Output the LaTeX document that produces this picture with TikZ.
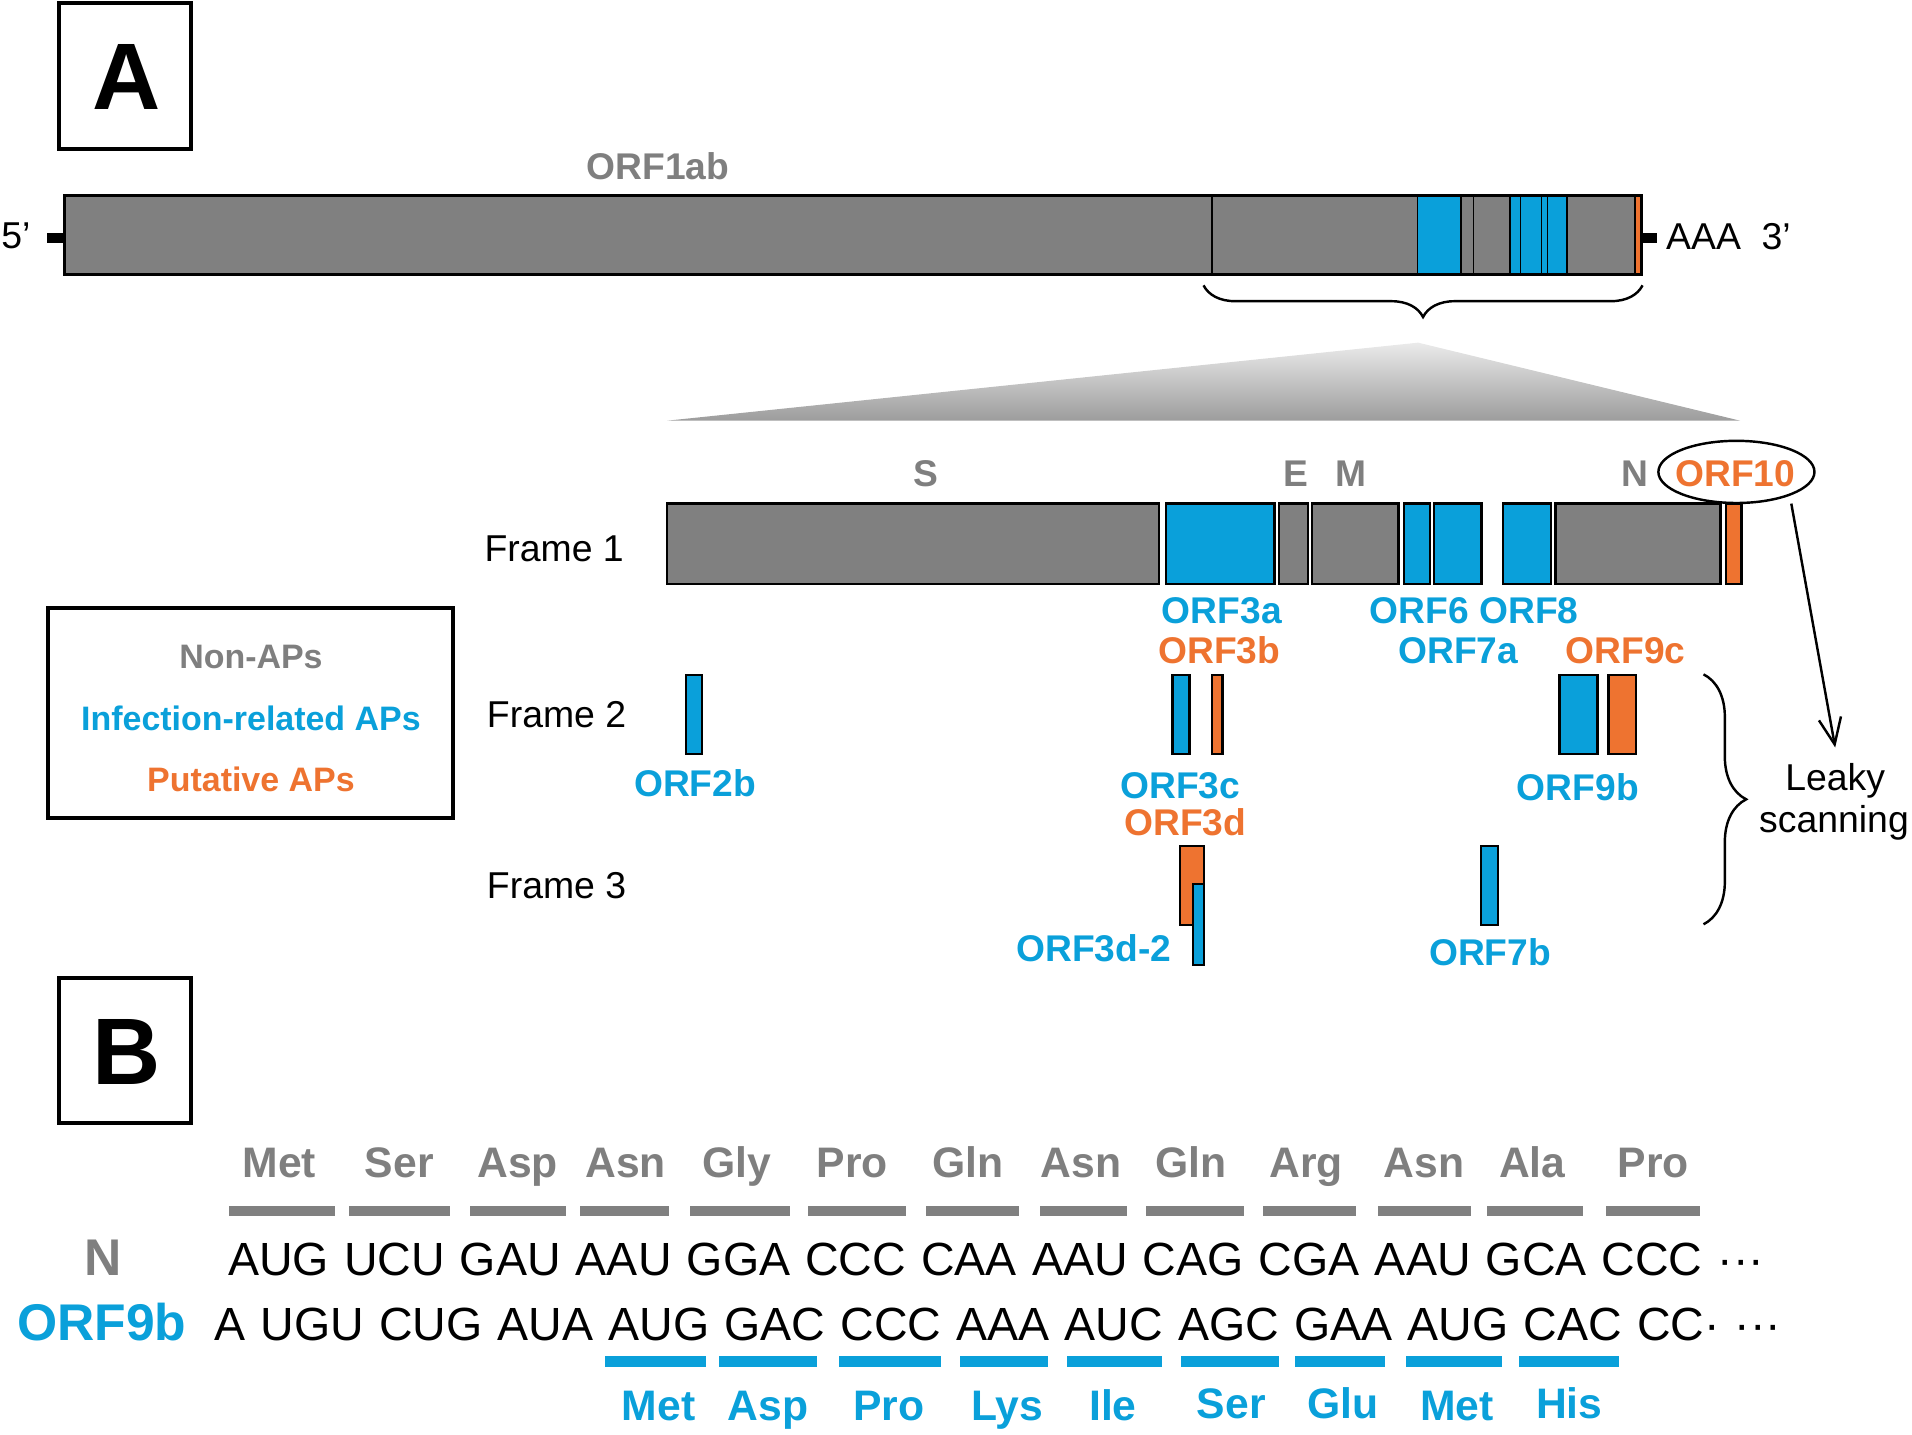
\documentclass[tikz,border=0pt]{standalone}
\usepackage{fontspec}
\setmainfont{Liberation Sans}
\usetikzlibrary{arrows.meta,decorations.pathreplacing,shapes.geometric}
\definecolor{apblue}{HTML}{0AA0DA}
\definecolor{aporange}{HTML}{EE7330}
\definecolor{nongray}{HTML}{808080}
\definecolor{txtgray}{HTML}{7F7F7F}
\definecolor{shtop}{HTML}{EAEAEA}
\definecolor{shbot}{HTML}{9C9C9C}
\newcommand{\myseqfont}{\fontsize{22.9}{26}\selectfont\spaceskip 7.45pt\relax}
\begin{document}
\begin{tikzpicture}[x=0.6pt,y=-0.6pt,
  lbl/.style={inner sep=0pt, anchor=base, font=\fontsize{18.3}{20}\selectfont\bfseries},
  plain/.style={inner sep=0pt, anchor=base, font=\fontsize{18.4}{20}\selectfont},
  legtxt/.style={inner sep=0pt, anchor=base, font=\fontsize{16.7}{19}\selectfont\bfseries},
  big/.style={inner sep=0pt, anchor=base, font=\fontsize{46.5}{50}\selectfont\bfseries},
  aa/.style={inner sep=0pt, anchor=base, font=\fontsize{21}{24}\selectfont\bfseries},
  seq/.style={inner sep=0pt, anchor=base west, font=\myseqfont},
  rowlab/.style={inner sep=0pt, anchor=base, font=\fontsize{25.4}{28}\selectfont\bfseries},
  blk/.style={draw=black, line width=1.2pt},
  thinln/.style={line width=0.8pt},
  frame/.style={draw=black, line width=2pt},
  brc/.style={line width=1.2pt, decorate},
]
\useasboundingbox (0,0) rectangle (1568,1176);

% ---------- Panel A label
\draw[frame] (48.7,2.2) rectangle (156.6,122);
\node[big] (labA) at (104,90.2) {A};

% ---------- Genome
\node[lbl, text=txtgray] (orf1ab) at (539.5,147.6) {ORF1ab};
\node[plain] (five) at (13,204) {5’};
\fill[black] (38.6,191.4) rectangle (53.7,199.4);
\fill[black] (1346,191.4) rectangle (1358.7,199.4);
\node[plain, anchor=base west] (aaa) at (1366,205) {AAA\ \ 3’};
\fill[nongray] (53,160) rectangle (1346,225);
\fill[apblue] (1162.3,160) rectangle (1198.2,225);
\fill[apblue] (1238.2,160) rectangle (1285.3,225);
\fill[aporange] (1341,160) rectangle (1346,225);
\foreach \xx in {993.7,1162.3,1198.2,1208.4,1238.2,1246.9,1264,1269,1285.3,1341}
  \draw[thinln] (\xx,160) -- (\xx,225);
\draw[line width=1.5pt] (53,160) rectangle (1346,225);

% brace under genome
\draw[brc, decoration={brace, mirror, amplitude=15.6pt}] (987,234) -- (1347,234);

% zoom triangle
\shade[top color=shtop, bottom color=shbot] (547,345) -- (1163,281) -- (1427,345) -- cycle;

% ---------- Frame labels
\node[plain, anchor=base west] (f1) at (397,460.6) {Frame 1};
\node[plain, anchor=base west] (f2) at (399,596.7) {Frame 2};
\node[plain, anchor=base west] (f3) at (399,736.7) {Frame 3};

% ---------- Frame 1
\draw[blk, fill=nongray] (547,413) rectangle (950.5,479);
\draw[blk, fill=apblue] (956,413) rectangle (1045,479);
\draw[blk, fill=nongray] (1049,413) rectangle (1072.6,479);
\draw[blk, fill=nongray] (1076,413) rectangle (1147,479);
\draw[blk, fill=apblue] (1151.5,413) rectangle (1172.7,479);
\draw[blk, fill=apblue] (1176,413) rectangle (1215,479);
\draw[blk, fill=apblue] (1232.6,413) rectangle (1272,479);
\draw[blk, fill=nongray] (1275.6,413) rectangle (1411,479);
\draw[blk, fill=aporange] (1415.5,413) rectangle (1428,479);

\node[lbl, text=txtgray] (lS) at (759,399) {S};
\node[lbl, text=txtgray] (lE) at (1063,399) {E};
\node[lbl, text=txtgray] (lM) at (1108,399) {M};
\node[lbl, text=txtgray] (lN) at (1341,399) {N};
\node[lbl, text=aporange] (l10) at (1423,399) {ORF10};
\node[draw, ellipse, line width=1.2pt, minimum width=76.8pt, minimum height=30.6pt, inner sep=0pt] (orf10e) at (1424,387) {};

\node[lbl, text=apblue] (l3a) at (1002,511) {ORF3a};
\node[lbl, text=apblue] (l68) at (1209,511) {ORF6 ORF8};
\node[lbl, text=aporange] (l3b) at (1000,544) {ORF3b};
\node[lbl, text=apblue] (l7a) at (1196,544) {ORF7a};
\node[lbl, text=aporange] (l9c) at (1333,544) {ORF9c};

% ---------- Frame 2
\draw[blk, fill=apblue] (562.6,553.6) rectangle (575.7,618.4);
\draw[blk, fill=apblue] (961.7,553.6) rectangle (975.3,618.4);
\draw[blk, fill=aporange] (994,553.6) rectangle (1002.5,618.4);
\draw[blk, fill=apblue] (1279,553.6) rectangle (1310,618.4);
\draw[blk, fill=aporange] (1319,553.6) rectangle (1341.6,618.4);

\node[lbl, text=apblue] (l2b) at (570,653.3) {ORF2b};
\node[lbl, text=apblue] (l3c) at (968,654.6) {ORF3c};
\node[lbl, text=apblue] (l9b) at (1294,656.6) {ORF9b};
\node[lbl, text=aporange] (l3d) at (972,685) {ORF3d};

% ---------- Frame 3
\draw[blk, fill=aporange] (967.7,693.8) rectangle (987.4,758.6);
\draw[blk, fill=apblue] (978.4,725) rectangle (987.4,791.4);
\draw[blk, fill=apblue] (1214.6,693.8) rectangle (1228.3,758.6);

\node[lbl, text=apblue] (l3d2) at (897,788.6) {ORF3d-2};
\node[lbl, text=apblue] (l7b) at (1222,791.4) {ORF7b};

% right brace + leaky scanning
\draw[brc, decoration={brace, amplitude=21pt}] (1397,553) -- (1397,758);
\node[plain] (leaky) at (1505,648) {Leaky};
\node[plain] (scan) at (1504,683) {scanning};
\coordinate (arrS) at (1469,413);
\coordinate (arrE) at (1505,613);
\draw[line width=1.2pt, -{Straight Barb[length=13pt,width=11pt,line width=1.2pt]}] (arrS) -- (arrE);

% ---------- Legend
\draw[frame] (39,498.9) rectangle (371.5,671);
\node[legtxt, text=txtgray] (lgN) at (205.8,548) {Non-APs};
\node[legtxt, text=apblue] (lgI) at (205.8,598.7) {Infection-related APs};
\node[legtxt, text=aporange] (lgP) at (205.8,649.2) {Putative APs};

% ---------- Panel B
\draw[frame] (48.7,802) rectangle (156.6,921);
\node[big] (labB) at (104,889) {B};

\foreach \cx/\t in {229/Met,327.5/Ser,424.5/Asp,513/Asn,604/Gly,699/Pro,794/Gln,886.6/Asn,976.9/Gln,1071/Arg,1167.7/Asn,1256.6/Ala,1355.7/Pro}
  \node[aa, text=txtgray] at (\cx,966) {\t};
\foreach \a/\b in {188/274.5,286.6/369.4,385.5/464.2,475.3/548.6,566/648,663/742.8,759.4/836,852.6/924,940/1020,1035.7/1112,1129.7/1206.7,1219.8/1298.2,1317.4/1394}
  \fill[nongray] (\a,988.7) rectangle (\b,997);

\node[rowlab, text=txtgray] (rN) at (84.3,1045.6) {N};
\node[seq] (seqN) at (186.7,1045.6) {AUG UCU GAU AAU GGA CCC CAA AAU CAG CGA AAU GCA CCC ···};
\node[rowlab, text=apblue] (r9b) at (83.5,1099) {ORF9b};
\node[seq] (seq9b) at (175.7,1099) {A UGU CUG AUA AUG GAC CCC AAA AUC AGC GAA AUG CAC CC· ···};

\foreach \a/\b in {496/578.7,589.7/670,688/771.4,787.6/859.6,874.7/952.7,968.3/1048.7,1062.3/1135.8,1153.4/1231.8,1246/1327.4}
  \fill[apblue] (\a,1112) rectangle (\b,1120.8);
\foreach \cx/\t/\by in {540/Met/1165,630/Asp/1165,728.7/Pro/1165,826/Lys/1165,912.7/Ile/1165,1009.8/Ser/1163,1101.6/Glu/1163,1195/Met/1165,1287/His/1163}
  \node[aa, text=apblue] at (\cx,\by) {\t};
\end{tikzpicture}
\end{document}
